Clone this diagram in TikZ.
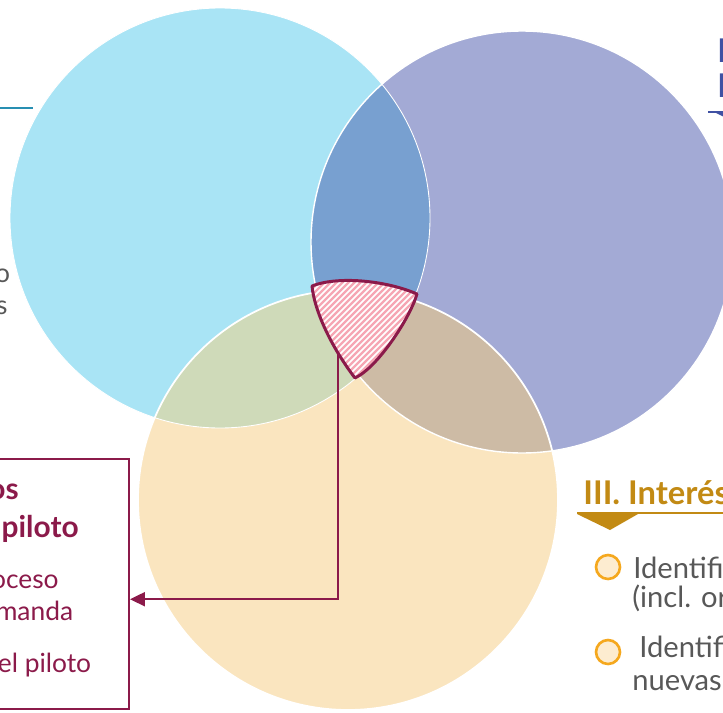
\documentclass[tikz,border=0pt]{standalone}
\usepackage{fontspec}
\setmainfont{Lato}
\usepackage{tikz}
\usetikzlibrary{arrows.meta}
\definecolor{skyblue}{RGB}{169, 228, 245}
\definecolor{lavender}{RGB}{163, 170, 213}
\definecolor{sand}{RGB}{250, 229, 191}
\definecolor{steel}{RGB}{120, 160, 208}
\definecolor{sage}{RGB}{207, 218, 185}
\definecolor{khaki}{RGB}{205, 187, 165}
\definecolor{claret}{RGB}{139, 26, 74}
\definecolor{blush}{RGB}{246, 166, 180}
\definecolor{ochre}{RGB}{194, 138, 20}
\definecolor{amber}{RGB}{245, 168, 30}
\definecolor{cream}{RGB}{253, 236, 208}
\definecolor{slate}{RGB}{88, 88, 88}
\definecolor{petrol}{RGB}{40, 143, 178}
\definecolor{royal}{RGB}{63, 81, 163}
\tikzset{
  headtext/.style={font=\fontsize{17}{20}\selectfont\bfseries, inner sep=0pt},
  bodytext/.style={font=\fontsize{15}{18}\selectfont, inner sep=0pt},
  sidehead/.style={font=\fontsize{18.6}{22}\selectfont\bfseries, inner sep=0pt},
  sidetext/.style={font=\fontsize{16.6}{20}\selectfont, inner sep=0pt, text=slate, anchor=base west},
  pilotframe/.style={draw=claret, line width=1.4pt, minimum width=7.00cm, minimum height=5.00cm, inner sep=0pt},
  bulletdot/.style={circle, draw=amber, fill=cream, line width=1.5pt, minimum size=0.48cm, inner sep=0pt}
}

\begin{document}
\begin{tikzpicture}
            \useasboundingbox (0.00, 0.00) rectangle (14.46,-14.26);
            % the three circles
            \fill[skyblue]                                               ( 4.40, -4.36) circle (4.20);
            \fill[lavender]                                              (10.44, -4.84) circle (4.22);
            \fill[sand]                                                  ( 6.96,-10.00) circle (4.20);
            \begin{scope}
                \clip                                                    ( 4.40, -4.36) circle (4.20);
                \fill[steel]                                             (10.44, -4.84) circle (4.22);
                \fill[sage]                                              ( 6.96,-10.00) circle (4.20);
            \end{scope}
            \begin{scope}
                \clip                                                    (10.44, -4.84) circle (4.22);
                \fill[khaki]                                             ( 6.96,-10.00) circle (4.20);
            \end{scope}
            \draw[white, line width=0.5pt]                               ( 4.40, -4.36) circle (4.20);
            \draw[white, line width=0.8pt]                               (10.44, -4.84) circle (4.22);
            \draw[white, line width=1.0pt]                               ( 6.96,-10.00) circle (4.20);
            % box and link
            \node[pilotframe, anchor=north east] (pilotbox) at (2.60, -9.16) {};
            \coordinate (hatchtap) at (6.76,-7.08);
            \draw[claret, line width=1.1pt, -{Triangle[length=8.5pt, width=8pt]}]
                 (hatchtap) |- ([yshift=-0.30cm]pilotbox.east);
            % hatched centre
            \begin{scope}
                \clip (6.24,-5.72) .. controls (6.74,-5.52) and (7.70,-5.60) .. (8.34,-5.88)
                                   .. controls (8.20,-6.36) and (7.56,-7.34) .. (7.10,-7.56)
                                   .. controls (6.70,-7.04) and (6.30,-6.30) .. (6.24,-5.72) -- cycle;
                \fill[white] (6.00,-5.30) rectangle (8.60,-7.80);
                \foreach \x in {3.96,4.08,...,7.40}
                    \draw[blush, line width=1.3pt] (\x,-7.70) -- ++(2.40,2.40);
            \end{scope}
            \draw[claret, line width=1.7pt, line join=round]
                 (6.24,-5.72) .. controls (6.74,-5.52) and (7.70,-5.60) .. (8.34,-5.88)
                              .. controls (8.20,-6.36) and (7.56,-7.34) .. (7.10,-7.56)
                              .. controls (6.70,-7.04) and (6.30,-6.30) .. (6.24,-5.72) -- cycle;
            % box texts
            \node[headtext, text=claret, anchor=base east] (boxhead1) at (0.38, -9.98) {os};
            \node[headtext, text=claret, anchor=base east] (boxhead2) at (1.58,-10.74) {piloto};
            \node[bodytext, text=claret, anchor=base east] (boxline1) at (1.18,-11.76) {oceso};
            \node[bodytext, text=claret, anchor=base east] (boxline2) at (1.47,-12.40) {manda};
            \node[bodytext, text=claret, anchor=base east] (boxline3) at (1.83,-13.44) {el piloto};
            % left edge leftovers
            \draw[petrol, line width=1.3pt] (-0.10,-2.16) -- (0.66,-2.16);
            \node[bodytext, text=slate, anchor=base east] (leftword1) at (0.21,-5.64) {o};
            \node[bodytext, text=slate, anchor=base east] (leftword2) at (0.16,-6.28) {s};
            % top right heading
            \node[sidehead, text=royal, anchor=base west] (partone) at (14.34,-1.24) {I};
            \node[sidehead, text=royal, anchor=base west] (parttwo) at (14.34,-1.94) {I};
            \draw[royal, line width=1.1pt] (14.16,-2.24) -- (14.60,-2.24);
            \fill[royal] (14.32,-2.26) -- (15.54,-2.26) -- (14.98,-2.58) -- cycle;
            % III heading and items
            \node[sidehead, text=ochre, anchor=base west] (interes) at (11.66,-10.08) {III. Interés};
            \draw[ochre, line width=1.1pt] (11.54,-10.26) -- (14.60,-10.26);
            \fill[ochre] (11.54,-10.28) -- (12.76,-10.28) -- (12.20,-10.60) -- cycle;
            \node[bulletdot] (dotone) at (12.16,-11.34) {};
            \node[bulletdot] (dottwo) at (12.16,-13.04) {};
            \node[sidetext] (itemonea) at (12.66,-11.56) {Identifi};
            \node[sidetext] (itemoneb) at (12.64,-12.14) {(incl. or};
            \node[sidetext] (itemtwoa) at (12.78,-13.14) {Identifi};
            \node[sidetext] (itemtwob) at (12.64,-13.80) {nuevas};
\end{tikzpicture}
\end{document}
